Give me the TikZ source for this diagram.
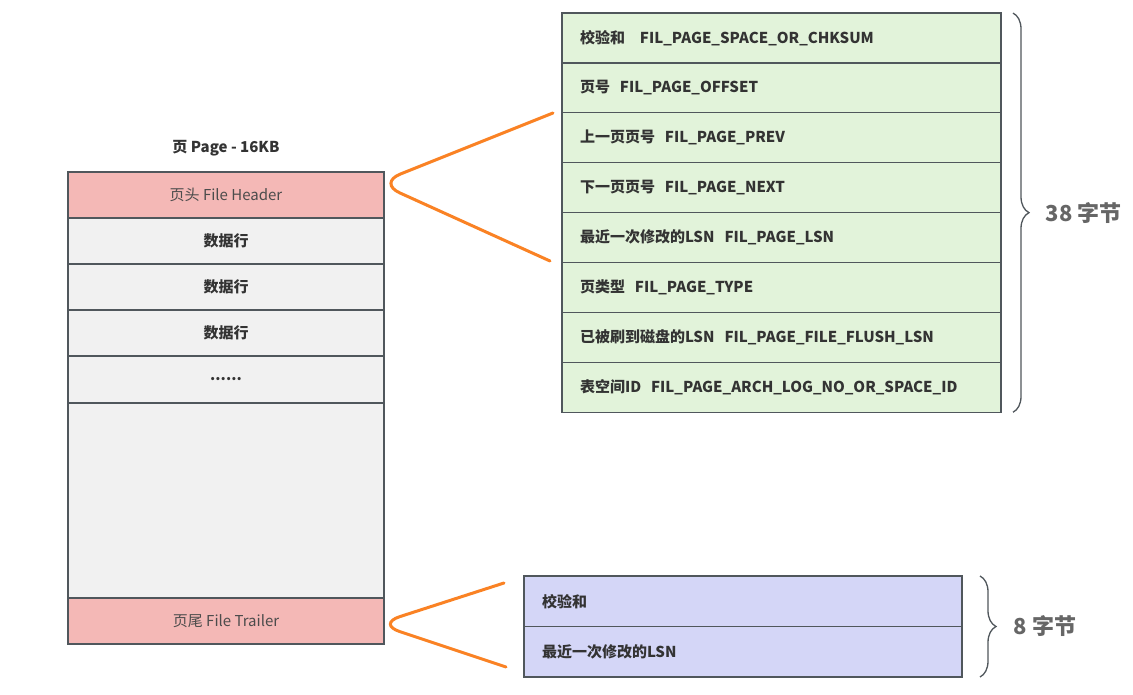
\documentclass[tikz,border=0pt]{standalone}
\usepackage{fontspec}
\setmainfont{Noto Sans CJK SC}
\usetikzlibrary{positioning, calc, decorations.pathreplacing}
\definecolor{pagefill}{HTML}{F1F1F1}
\definecolor{hdrfill}{HTML}{F4B8B6}
\definecolor{fieldfill}{HTML}{E2F3DA}
\definecolor{trailfill}{HTML}{D4D6F7}
\definecolor{edge}{HTML}{50575C}
\definecolor{zoomline}{HTML}{FA8224}
\definecolor{sizetext}{HTML}{666666}

\begin{document}
\begin{tikzpicture}[
        x=1pt, y=-1pt,
        node distance=0pt,
        font=\fontsize{15}{17}\selectfont,
        pagerow/.style={rectangle, draw=edge, line width=1.3pt, fill=pagefill, minimum width=316pt, minimum height=46pt, inner sep=0pt, outer sep=0pt, font=\fontsize{15}{17}\selectfont\bfseries, text=black!80},
        hdrrow/.style={pagerow, fill=hdrfill, font=\fontsize{15}{17}\selectfont, text=black!70},
        field/.style={rectangle, draw=edge, line width=1.3pt, fill=fieldfill, text width=403pt, inner xsep=18pt, inner ysep=0pt, outer sep=0pt, minimum height=49.9pt, align=left, font=\fontsize{15}{17}\selectfont\bfseries, text=black!80},
        trailfield/.style={field, fill=trailfill, text width=402pt, minimum height=50.5pt},
        zoomcurve/.style={draw=zoomline, line width=3pt, rounded corners=24pt, line cap=round},
        sizebrace/.style={decorate, decoration={brace, amplitude=16pt}, draw=edge, line width=1.3pt},
        sizelabel/.style={inner sep=0pt, font=\fontsize{22}{24}\selectfont\bfseries, text=sizetext}
    ]
    \useasboundingbox [fill=white] (0,0) rectangle (1133,695);

    % Page
    \node (title) [font=\fontsize{15}{17}\selectfont\bfseries, text=black!80] at (226,148) {页 Page - 16KB};
    \node (hdr) [hdrrow] at (226,195) {页头 File Header};
    \node (row1) [pagerow, below=of hdr] {数据行};
    \node (row2) [pagerow, below=of row1] {数据行};
    \node (row3) [pagerow, below=of row2] {数据行};
    \node (more) [pagerow, below=of row3, minimum height=47pt] {......};
    \node (free) [pagerow, below=of more, minimum height=195pt] {};
    \node (trl) [hdrrow, below=of free] {页尾 File Trailer};

    % File Header fields
    \node (csum) [field] at (781.5,38) {校验和\ \ \ FIL\_PAGE\_SPACE\_OR\_CHKSUM};
    \node (offs) [field, below=of csum] {页号\ \ FIL\_PAGE\_OFFSET};
    \node (prev) [field, below=of offs] {上一页页号\ \ FIL\_PAGE\_PREV};
    \node (next) [field, below=of prev] {下一页页号\ \ FIL\_PAGE\_NEXT};
    \node (lsn) [field, below=of next] {最近一次修改的LSN\ \ FIL\_PAGE\_LSN};
    \node (type) [field, below=of lsn] {页类型\ \ FIL\_PAGE\_TYPE};
    \node (flush) [field, below=of type] {已被刷到磁盘的LSN\ \ FIL\_PAGE\_FILE\_FLUSH\_LSN};
    \node (space) [field, below=of flush] {表空间ID\ \ FIL\_PAGE\_ARCH\_LOG\_NO\_OR\_SPACE\_ID};

    % File Trailer fields
    \node (tcsum) [trailfield] at (743,601.25) {校验和};
    \node (tlsn) [trailfield, below=of tcsum] {最近一次修改的LSN};

    % Zoom curves
    \coordinate (htop) at (553,113);
    \coordinate (htip) at (378,183);
    \coordinate (hbot) at (550,261);
    \coordinate (ttop) at (504,583);
    \coordinate (ttip) at (377,624);
    \coordinate (tbot) at (506,667);
    \draw [zoomcurve] (htop) -- (htip) -- (hbot);
    \draw [zoomcurve] (ttop) -- (ttip) -- (tbot);

    % Braces
    \draw [sizebrace] ([xshift=12pt]csum.north east) -- ([xshift=12pt]space.south east)
        node (hsize) [sizelabel, midway, right=32pt, anchor=west] {38 字节};
    \draw [sizebrace] ([xshift=18pt]tcsum.north east) -- ([xshift=18pt]tlsn.south east)
        node (tsize) [sizelabel, midway, right=33pt, anchor=west] {8 字节};

\end{tikzpicture}
\end{document}
